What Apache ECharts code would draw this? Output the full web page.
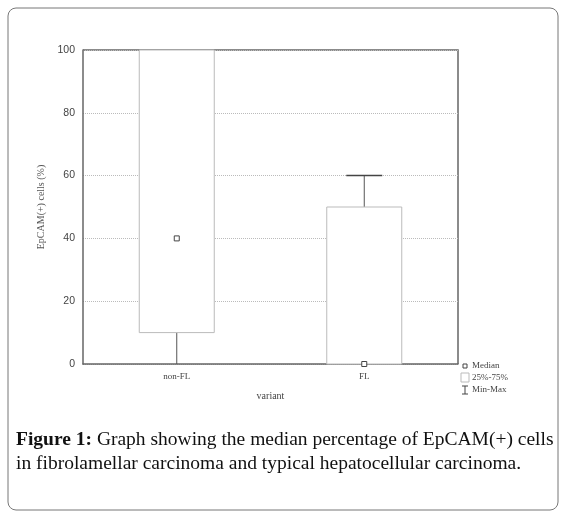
<!DOCTYPE html>
<html>
<head>
<meta charset="utf-8">
<script src="https://cdn.jsdelivr.net/npm/echarts@6/dist/echarts.min.js"></script>
<style>
  html, body { margin: 0; padding: 0; background: #fff; }
  #chart { width: 566px; height: 515px; }
</style>
</head>
<body>
<div id="chart"></div>
<script>
// data
const categories = ['non-FL', 'FL']
const mins = [0, 0]
const q1s = [10, 0]
const medians = [40, 0]
const q3s = [100, 50]
const maxs = [100, 60]
const yTicks = [0, 20, 40, 60, 80, 100]

const boxData = categories.map((c, i) => [i, mins[i], q1s[i], medians[i], q3s[i], maxs[i]])

const serif = '"Liberation Serif", "DejaVu Serif", serif'
const sans = '"Liberation Sans", Arial, sans-serif'

function renderBox(params, api) {
  const i = api.value(0)
  const [cx, yMin] = api.coord([i, api.value(1)])
  const yQ1 = api.coord([i, api.value(2)])[1]
  const yMed = api.coord([i, api.value(3)])[1]
  const yQ3 = api.coord([i, api.value(4)])[1]
  const yMax = api.coord([i, api.value(5)])[1]
  const bw = api.size([1, 0])[0] * 0.4
  const cw = bw * 0.48
  const line = { stroke: '#555', lineWidth: 1 }
  const kids = [
    { type: 'line', shape: { x1: cx, y1: yQ1, x2: cx, y2: yMin }, style: line },
    { type: 'line', shape: { x1: cx, y1: yQ3, x2: cx, y2: yMax }, style: line },
    { type: 'rect', shape: { x: cx - bw / 2, y: yQ3, width: bw, height: yQ1 - yQ3 },
      style: { fill: '#fff', stroke: '#bbb', lineWidth: 1 } },
    { type: 'rect', shape: { x: cx - 2.5, y: yMed - 2.5, width: 5, height: 5 },
      style: { fill: '#fff', stroke: '#444', lineWidth: 1 } }
  ]
  if (api.value(5) > api.value(4)) {
    kids.push({ type: 'line', shape: { x1: cx - cw / 2, y1: yMax, x2: cx + cw / 2, y2: yMax },
      style: { stroke: '#444', lineWidth: 1.5 } })
  }
  return { type: 'group', children: kids }
}

const chart = echarts.init(document.getElementById('chart'))
chart.setOption({
  animation: false,
  grid: { left: 83, top: 50, width: 375, height: 314 },
  xAxis: {
    type: 'category',
    data: categories,
    boundaryGap: true,
    name: 'variant',
    nameLocation: 'middle',
    nameGap: 27,
    nameTextStyle: { fontFamily: serif, fontSize: 10, color: '#444' },
    axisLine: { lineStyle: { color: '#666', width: 1.5 } },
    axisTick: { show: false },
    axisLabel: { fontFamily: serif, fontSize: 9, color: '#444', margin: 8 }
  },
  yAxis: {
    type: 'value',
    min: yTicks[0],
    max: yTicks[yTicks.length - 1],
    interval: 20,
    name: 'EpCAM(+) cells (%)',
    nameLocation: 'middle',
    nameGap: 30,
    nameTextStyle: { fontFamily: serif, fontSize: 10, color: '#555' },
    axisLine: { show: true, lineStyle: { color: '#666', width: 1.5 } },
    axisTick: { show: false },
    axisLabel: { fontFamily: sans, fontSize: 10.5, color: '#444', margin: 8 },
    splitLine: { lineStyle: { color: '#bbb', type: 'dotted' } }
  },
  series: [{
    type: 'custom',
    renderItem: renderBox,
    data: boxData,
    encode: { x: 0, y: [1, 2, 3, 4, 5] },
    z: 3
  }],
  graphic: [
    { type: 'rect', shape: { x: 8, y: 8, width: 550, height: 502, r: 8 },
      style: { fill: 'none', stroke: '#777', lineWidth: 1 }, silent: true },
    // top / right frame of the plot
    { type: 'polyline', shape: { points: [[83, 50], [458, 50], [458, 364]] },
      style: { stroke: '#666', lineWidth: 1.5, fill: 'none' } },
    // legend
    { type: 'rect', shape: { x: 463, y: 364, width: 4, height: 4 }, style: { fill: '#fff', stroke: '#444' } },
    { type: 'text', x: 472, y: 361, style: { text: 'Median', font: '9px ' + serif, fill: '#444' } },
    { type: 'rect', shape: { x: 461, y: 373, width: 8, height: 9 }, style: { fill: '#fff', stroke: '#bbb' } },
    { type: 'text', x: 472, y: 373, style: { text: '25%-75%', font: '9px ' + serif, fill: '#444' } },
    { type: 'polyline', shape: { points: [[465, 386], [465, 394]] }, style: { stroke: '#444' } },
    { type: 'polyline', shape: { points: [[462, 386], [468, 386]] }, style: { stroke: '#444' } },
    { type: 'polyline', shape: { points: [[462, 394], [468, 394]] }, style: { stroke: '#444' } },
    { type: 'text', x: 472, y: 385, style: { text: 'Min-Max', font: '9px ' + serif, fill: '#444' } },
    // caption
    { type: 'text', x: 16, y: 430, style: {
        rich: { b: { fontWeight: 'bold', fontFamily: serif, fontSize: 19.5, fill: '#111' },
                n: { fontFamily: serif, fontSize: 19.5, fill: '#111' } },
        text: '{b|Figure 1:}{n| Graph showing the median percentage of EpCAM(+) cells}'
      } },
    { type: 'text', x: 16, y: 454, style: {
        text: 'in fibrolamellar carcinoma and typical hepatocellular carcinoma.',
        font: '19.5px ' + serif, fill: '#111'
      } }
  ]
})
</script>
</body>
</html>
